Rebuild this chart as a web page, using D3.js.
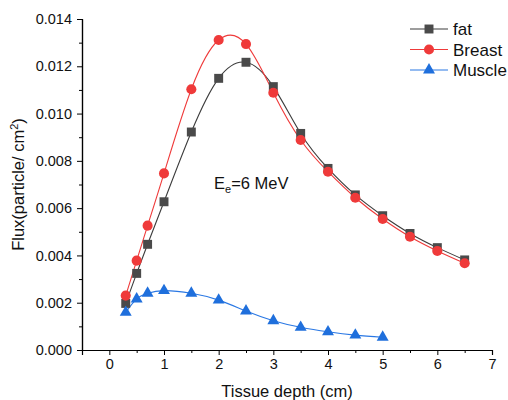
<!DOCTYPE html>
<html>
<head>
<meta charset="utf-8">
<script src="https://cdn.jsdelivr.net/npm/d3@7"></script>
<style>
  html, body { margin: 0; padding: 0; background: #fff; }
  svg { display: block; font-family: "Liberation Sans", Arial, sans-serif; }
</style>
</head>
<body>
<svg id="chart" width="508" height="400"></svg>
<script>
// Tissue depth (cm) sampled for each tissue
const depthFatBreast = [0.3, 0.5, 0.7, 1.0, 1.5, 2.0, 2.5, 3.0, 3.5, 4.0, 4.5, 5.0, 5.5, 6.0, 6.5];
const depthMuscle = [0.3, 0.5, 0.7, 1.0, 1.5, 2.0, 2.5, 3.0, 3.5, 4.0, 4.5, 5.0];

// Flux (particle / cm^2)
const fluxFat = [0.00197, 0.00324, 0.00447, 0.00627, 0.00922, 0.01149, 0.01217, 0.01114, 0.00916, 0.00768, 0.00656, 0.00568, 0.00493, 0.00433, 0.00381];
const fluxBreast = [0.00230, 0.00378, 0.00526, 0.00747, 0.01103, 0.01311, 0.01294, 0.01088, 0.00888, 0.00754, 0.00644, 0.00554, 0.00479, 0.00419, 0.00367];
const fluxMuscle = [0.00159, 0.00216, 0.00240, 0.00251, 0.00240, 0.00211, 0.00165, 0.00124, 0.00096, 0.00077, 0.00063, 0.00054];

const xTicks = [0, 1, 2, 3, 4, 5, 6, 7];
const yTicks = [0.000, 0.002, 0.004, 0.006, 0.008, 0.010, 0.012, 0.014];
const seriesNames = ["fat", "Breast", "Muscle"];

const series = [
  { name: seriesNames[0], xs: depthFatBreast, ys: fluxFat, color: "#4a4a4a", line: "#3c3c3c", symbol: d3.symbolSquare },
  { name: seriesNames[1], xs: depthFatBreast, ys: fluxBreast, color: "#ef3a3a", line: "#ef3a3a", symbol: d3.symbolCircle },
  { name: seriesNames[2], xs: depthMuscle, ys: fluxMuscle, color: "#1f6fdc", line: "#2a78e4", symbol: d3.symbolTriangle }
];

const svg = d3.select("#chart");
const margin = { left: 82, right: 16, top: 19, bottom: 50 };
const W = 508, H = 400;

const x = d3.scaleLinear().domain([-0.5, 7]).range([margin.left, W - margin.right]);
const y = d3.scaleLinear().domain([0, 0.014]).range([H - margin.bottom, margin.top]);

// Axes: major ticks plus minor ticks halfway between
const xAxis = d3.axisBottom(x).tickValues(xTicks).tickFormat(d3.format("d")).tickSizeOuter(0).tickSize(5).tickPadding(4);
const xMinor = d3.axisBottom(x).tickValues(d3.range(0.5, 7, 1)).tickFormat("").tickSize(3).tickSizeOuter(0);
const yAxis = d3.axisLeft(y).tickValues(yTicks).tickFormat(d3.format(".3f")).tickSizeOuter(0).tickSize(5).tickPadding(5);
const yMinor = d3.axisLeft(y).tickValues(d3.range(0.001, 0.014, 0.002)).tickFormat("").tickSize(3).tickSizeOuter(0);

function styleAxis(g) {
  g.selectAll("path.domain").attr("stroke", "#000").attr("stroke-width", 1.2);
  g.selectAll(".tick line").attr("stroke", "#000").attr("stroke-width", 1);
  g.selectAll(".tick text").attr("fill", "#111").style("font-size", "14.5px").style("font-family", "'Liberation Sans', Arial, sans-serif");
}

svg.append("g").attr("transform", `translate(0,${y(0)})`).call(xMinor).call(styleAxis);
svg.append("g").attr("transform", `translate(0,${y(0)})`).call(xAxis).call(styleAxis);
svg.append("g").attr("transform", `translate(${x(-0.5)},0)`).call(yMinor).call(styleAxis);
svg.append("g").attr("transform", `translate(${x(-0.5)},0)`).call(yAxis).call(styleAxis);

// Smooth connecting curves and markers
const line = d3.line().curve(d3.curveNatural);
series.forEach(s => {
  const pts = s.xs.map((v, i) => [x(v), y(s.ys[i])]);
  svg.append("path")
    .attr("d", line(pts))
    .attr("fill", "none")
    .attr("stroke", s.line)
    .attr("stroke-width", 1.1);
});
const symSize = s => (s.symbol === d3.symbolTriangle ? 62 : 80);
series.forEach(s => {
  const sym = d3.symbol().type(s.symbol).size(symSize(s));
  svg.append("g").selectAll("path")
    .data(s.xs.map((v, i) => [v, s.ys[i]]))
    .join("path")
    .attr("d", sym)
    .attr("transform", d => `translate(${x(d[0])},${y(d[1])})`)
    .attr("fill", s.color);
});

// Legend
const legend = svg.append("g").attr("transform", "translate(410,29)");
series.forEach((s, i) => {
  const g = legend.append("g").attr("transform", `translate(0,${i * 20.5})`);
  g.append("line").attr("x1", 0).attr("x2", 38).attr("y1", 0).attr("y2", 0).attr("stroke", s.line).attr("stroke-width", 1.1);
  const sym = d3.symbol().type(s.symbol).size(symSize(s));
  g.append("path").attr("d", sym).attr("transform", "translate(19,0)").attr("fill", s.color);
  g.append("text").attr("x", 43).attr("y", 6).text(s.name).style("font-size", "17px").attr("fill", "#111");
});

// Beam energy annotation
const ann = svg.append("text").attr("x", 214).attr("y", 189).style("font-size", "16.5px").attr("fill", "#111");
ann.append("tspan").text("E");
ann.append("tspan").attr("dy", 4).style("font-size", "11px").text("e");
ann.append("tspan").attr("dy", -4).text("=6 MeV");

// Axis titles
svg.append("text")
  .attr("x", (x(-0.5) + x(7)) / 2).attr("y", 397)
  .attr("text-anchor", "middle")
  .style("font-size", "16.5px").attr("fill", "#111")
  .text("Tissue depth (cm)");

const yt = svg.append("text")
  .attr("transform", `translate(24,${(y(0) + y(0.014)) / 2}) rotate(-90)`)
  .attr("text-anchor", "middle")
  .style("font-size", "16.5px").attr("fill", "#111");
yt.append("tspan").text("Flux(particle/ cm");
yt.append("tspan").attr("dy", -6).style("font-size", "11px").text("2");
yt.append("tspan").attr("dy", 6).text(")");
</script>
</body>
</html>
